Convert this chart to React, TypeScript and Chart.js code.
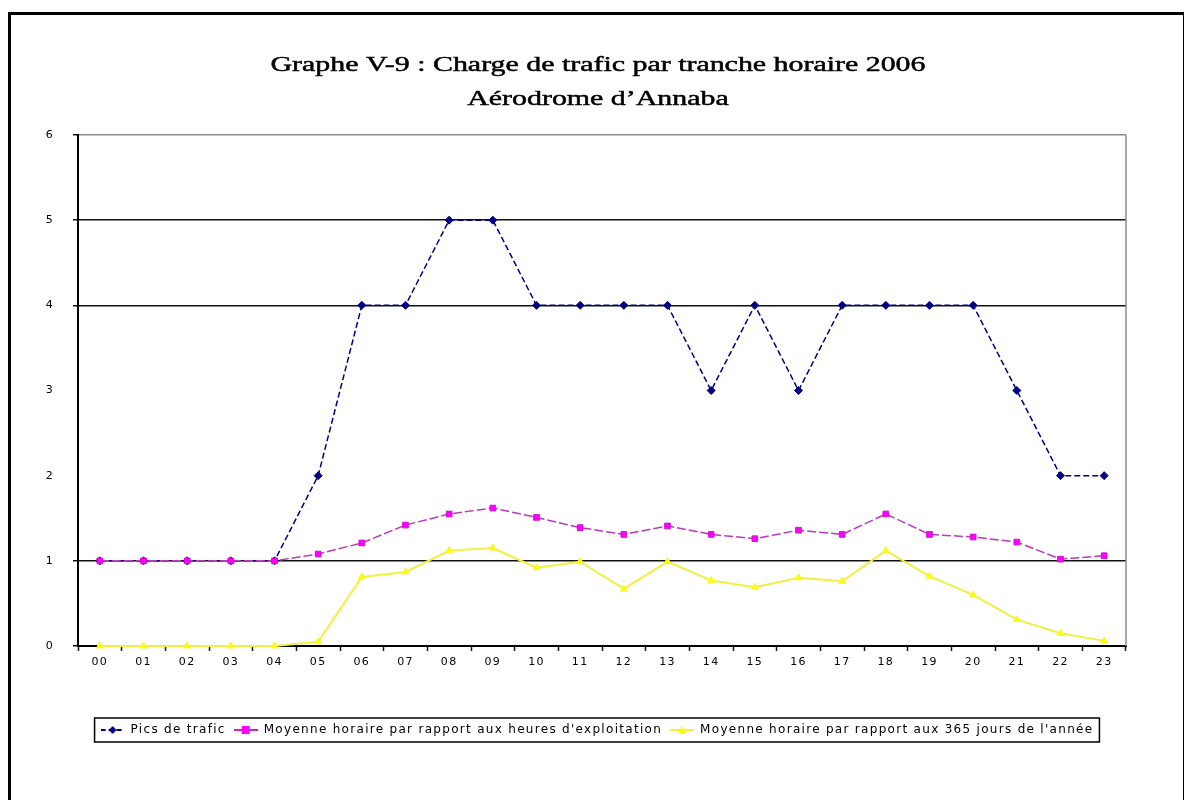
import React, { useEffect, useRef } from "react";
import { Chart, registerables } from "chart.js";

Chart.register(...registerables);

const hours = ["00", "01", "02", "03", "04", "05", "06", "07", "08", "09", "10", "11", "12", "13", "14", "15", "16", "17", "18", "19", "20", "21", "22", "23"];
const picsTrafic = [1, 1, 1, 1, 1, 2, 4, 4, 5, 5, 4, 4, 4, 4, 3, 4, 3, 4, 4, 4, 4, 3, 2, 2];
const moyenneExploitation = [1, 1, 1, 1, 1, 1.08, 1.21, 1.42, 1.55, 1.62, 1.51, 1.39, 1.31, 1.41, 1.31, 1.26, 1.36, 1.31, 1.55, 1.31, 1.28, 1.22, 1.02, 1.06];
const moyenneAnnee = [0, 0, 0, 0, 0, 0.05, 0.81, 0.87, 1.12, 1.15, 0.92, 0.99, 0.67, 0.99, 0.77, 0.69, 0.8, 0.76, 1.12, 0.82, 0.6, 0.31, 0.15, 0.06];
const seriesLabels = [
  "Pics de trafic",
  "Moyenne horaire par rapport aux heures d'exploitation",
  "Moyenne horaire par rapport aux 365 jours de l'année",
];
const titleLines = ["Graphe V-9 : Charge de trafic par tranche horaire 2006", "Aérodrome d’Annaba"];
const yMin = 0;
const yMax = 6;
const yStep = 1;

function makeSample(lineColor: string, fill: string, shape: string, dash: number[]) {
  const c = document.createElement("canvas");
  c.width = 24;
  c.height = 12;
  const g = c.getContext("2d")!;
  g.strokeStyle = lineColor;
  g.lineWidth = 2;
  g.setLineDash(dash);
  g.beginPath();
  g.moveTo(0, 6);
  g.lineTo(24, 6);
  g.stroke();
  g.setLineDash([]);
  g.fillStyle = fill;
  g.beginPath();
  if (shape === "diamond") {
    g.moveTo(12, 2);
    g.lineTo(16, 6);
    g.lineTo(12, 10);
    g.lineTo(8, 6);
  } else if (shape === "square") {
    g.rect(8, 2, 8, 8);
  } else {
    g.moveTo(12, 2);
    g.lineTo(16, 10);
    g.lineTo(8, 10);
  }
  g.closePath();
  g.fill();
  return c;
}

export default function App() {
  const ref = useRef<HTMLCanvasElement>(null);
  useEffect(() => {
    document.body.style.overflow = "hidden";
    document.documentElement.style.overflow = "hidden";
    const canvas = ref.current!;
    const samples = [
      makeSample("#000080", "#000080", "diamond", [5, 3]),
      makeSample("#cc22cc", "#ff00ff", "square", []),
      makeSample("#f2f23a", "#ffff00", "triangle", []),
    ];
    const gridColor = (ctx: any) => {
      const v = ctx.tick ? ctx.tick.value : 0;
      if (v === 2 || v === 3) return "rgba(0,0,0,0)";
      if (v === 6) return "#8c8c8c";
      return "#111";
    };
    const tickColor = (ctx: any) => {
      const v = ctx.tick ? ctx.tick.value : 0;
      if (v === 2 || v === 3) return "rgba(0,0,0,0)";
      return "#111";
    };
    const decor = {
      id: "decor",
      beforeUpdate(chart: any) {
        chart.ctx.letterSpacing = "1.3px";
      },
      beforeDraw(chart: any) {
        chart.ctx.letterSpacing = "1.3px";
      },
      afterDraw(chart: any) {
        const ctx = chart.ctx;
        const a = chart.chartArea;
        ctx.save();
        ctx.strokeStyle = "#8c8c8c";
        ctx.lineWidth = 1.5;
        ctx.beginPath();
        ctx.moveTo(a.right, a.top);
        ctx.lineTo(a.right, a.bottom);
        ctx.stroke();
        const lg = chart.legend;
        if (lg && lg.legendHitBoxes && lg.legendHitBoxes.length) {
          const hb = lg.legendHitBoxes;
          let l = Infinity, r = -Infinity;
          hb.forEach((h: any) => {
            l = Math.min(l, h.left);
            r = Math.max(r, h.left + h.width);
          });
          const t = hb[0].top;
          ctx.strokeStyle = "#000";
          ctx.lineWidth = 1.5;
          ctx.strokeRect(l - 6, t - 6, r - l + 12, hb[0].height + 12);
        }
        ctx.letterSpacing = "0px";
        ctx.fillStyle = "#000";
        ctx.strokeStyle = "#000";
        ctx.lineWidth = 0.5;
        ctx.font = '22px "Liberation Serif"';
        ctx.textAlign = "center";
        ctx.textBaseline = "middle";
        const w = ctx.measureText(titleLines[0]).width;
        const sx = 655 / w;
        const cx = chart.width / 2 + 1;
        const ys = [50, 84];
        titleLines.forEach((line, i) => {
          ctx.save();
          ctx.translate(cx, ys[i]);
          ctx.scale(sx, 1);
          ctx.fillText(line, 0, 0);
          ctx.strokeText(line, 0, 0);
          ctx.restore();
        });
        ctx.restore();
      },
    };
    const chart = new Chart(canvas, {
      type: "line",
      data: {
        labels: hours,
        datasets: [
          {
            label: seriesLabels[0],
            data: picsTrafic,
            borderColor: "#000080",
            backgroundColor: "#000080",
            borderWidth: 1.5,
            borderDash: [6, 3],
            pointStyle: "rectRot",
            pointRadius: 4,
            pointBackgroundColor: "#000080",
            pointBorderColor: "#000080",
            pointBorderWidth: 1,
            order: 3,
            clip: 6,
          },
          {
            label: seriesLabels[1],
            data: moyenneExploitation,
            borderColor: "#b83cb8",
            backgroundColor: "#ff00ff",
            borderWidth: 1.5,
            borderDash: [9, 3],
            pointStyle: "rect",
            pointRadius: 4,
            pointBackgroundColor: "#ff00ff",
            pointBorderColor: "#d010d0",
            pointBorderWidth: 1,
            order: 2,
            clip: 6,
          },
          {
            label: seriesLabels[2],
            data: moyenneAnnee,
            borderColor: "#f0f040",
            backgroundColor: "#ffff00",
            borderWidth: 2,
            pointStyle: "triangle",
            pointRadius: 4,
            pointBackgroundColor: "#ffff00",
            pointBorderColor: "#f4f430",
            pointBorderWidth: 1,
            order: 1,
            clip: 6,
          },
        ],
      },
      options: {
        responsive: false,
        animation: false,
        layout: { padding: { left: 10, right: 10, top: 120, bottom: 54 } },
        scales: {
          x: {
            offset: true,
            grid: { offset: true, drawOnChartArea: false, drawTicks: true, tickLength: 5, tickColor: "#111", tickWidth: 1.5 },
            border: { color: "#000", width: 2 },
            ticks: { color: "#000", font: { family: "DejaVu Sans", size: 11 }, padding: 5, maxRotation: 0, autoSkip: false },
            afterFit: (s: any) => {
              s.height = 70;
            },
          },
          y: {
            min: yMin,
            max: yMax,
            ticks: { stepSize: yStep, color: "#000", font: { family: "DejaVu Sans", size: 11 }, padding: 19 },
            grid: { color: gridColor, lineWidth: 1.5, tickLength: 5, tickColor: tickColor, tickWidth: 1.5 },
            border: { color: "#000", width: 2 },
            afterFit: (s: any) => {
              s.width = 57;
            },
          },
          yRightSpace: {
            position: "right",
            display: true,
            min: yMin,
            max: yMax,
            grid: { display: false, drawTicks: false },
            border: { display: false },
            ticks: { display: false },
            afterFit: (s: any) => {
              s.width = 47;
            },
          },
        },
        plugins: {
          legend: {
            position: "bottom",
            labels: {
              usePointStyle: true,
              pointStyleWidth: 24,
              boxHeight: 12,
              padding: 8,
              color: "#000",
              font: { family: "DejaVu Sans", size: 12 },
              generateLabels: (ch: any) =>
                ch.data.datasets.map((d: any, i: number) => ({
                  text: d.label,
                  pointStyle: samples[i],
                  fillStyle: d.backgroundColor,
                  strokeStyle: d.borderColor,
                  lineWidth: 0,
                  hidden: false,
                  datasetIndex: i,
                  fontColor: "#000",
                })),
            },
          },
          title: { display: false },
          tooltip: { enabled: false },
        },
      },
      plugins: [decor],
    } as any);
    return () => chart.destroy();
  }, []);
  return (
    <div style={{ position: "relative", top: 4, width: 1172, height: 800, border: "3px solid #000", background: "#fff" }}>
      <canvas ref={ref} width={1172} height={785} style={{ display: "block" }} />
    </div>
  );
}
